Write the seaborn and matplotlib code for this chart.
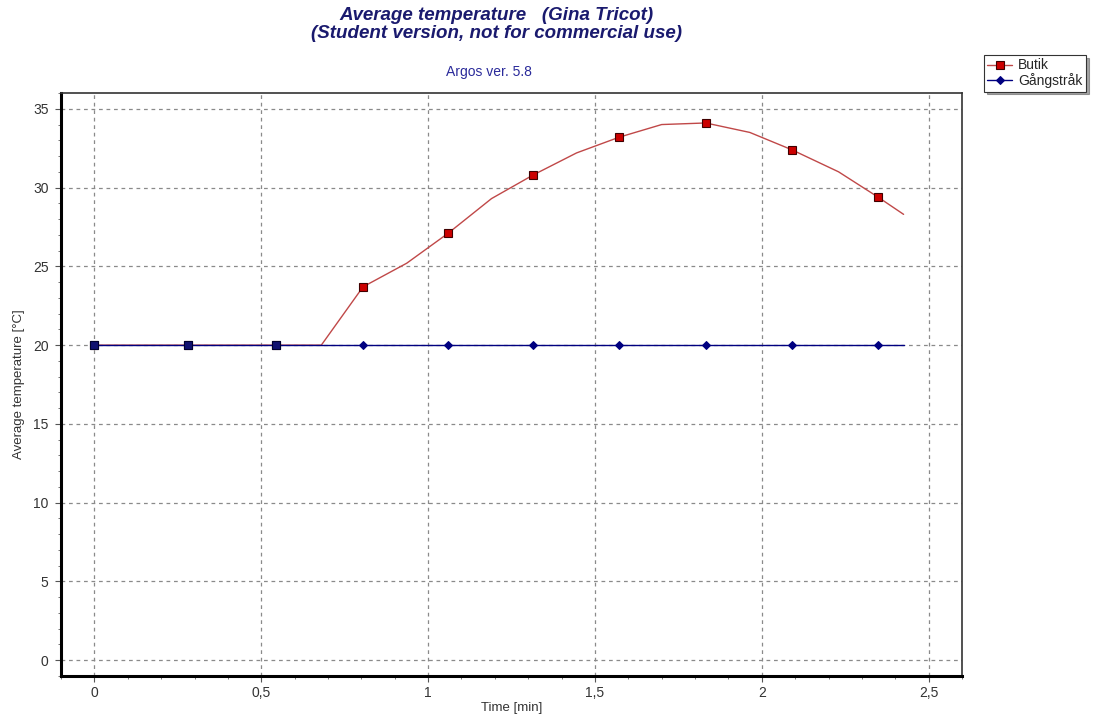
import matplotlib
matplotlib.use("Agg")
import matplotlib.pyplot as plt
import seaborn as sns
import pandas as pd
import numpy as np
from matplotlib.ticker import MultipleLocator, FuncFormatter

time_min = [0.0, 0.14, 0.281, 0.41, 0.545, 0.68, 0.805, 0.936, 1.06, 1.19,
            1.315, 1.445, 1.573, 1.70, 1.832, 1.964, 2.09, 2.23, 2.348, 2.425]
butik = [20.0, 20.0, 20.0, 20.0, 20.0, 20.0, 23.7, 25.2, 27.1, 29.3,
         30.8, 32.2, 33.2, 34.0, 34.1, 33.5, 32.4, 31.0, 29.4, 28.3]
gangstrak = [20.0] * 20
series_names = ["Butik", "Gångstråk"]
x_ticks = [0, 0.5, 1, 1.5, 2, 2.5]
y_ticks = [0, 5, 10, 15, 20, 25, 30, 35]

sns.set_theme(style="white")
plt.rcParams['font.family'] = ['Liberation Sans', 'DejaVu Sans']

df = pd.DataFrame({"time": time_min, "Butik": butik, "Gångstråk": gangstrak})

fig = plt.figure(figsize=(11.06, 7.24), dpi=100)
ax = fig.add_axes([0.0552, 0.0663, 0.8146, 0.8052])

red_line = "#c04848"
navy = "#000080"

sns.lineplot(data=df, x="time", y="Butik", ax=ax, color=red_line, linewidth=1.0,
             marker="s", markersize=5.4, markerfacecolor="#cc0000",
             markeredgecolor="#400000", markeredgewidth=0.8, markevery=2,
             label=series_names[0])
sns.lineplot(data=df, x="time", y="Gångstråk", ax=ax, color=navy, linewidth=1.0,
             marker="D", markersize=4.2, markerfacecolor=navy,
             markeredgecolor=navy, markevery=2, label=series_names[1])

# where both series coincide, the square marker shows in navy
same = df[np.isclose(df["Butik"], df["Gångstråk"])].iloc[::2]
ax.plot(same["time"], same["Butik"], linestyle="none", marker="s", markersize=5.4,
        markerfacecolor="#101070", markeredgecolor="#000030", markeredgewidth=0.8,
        zorder=5)

ax.set_xlim(-0.1, 2.6)
ax.set_ylim(-1.0, 36.0)
ax.set_xticks(x_ticks)
ax.set_yticks(y_ticks)
ax.xaxis.set_minor_locator(MultipleLocator(0.1))
ax.yaxis.set_minor_locator(MultipleLocator(1))
ax.xaxis.set_major_formatter(FuncFormatter(lambda v, p: f"{v:g}".replace(".", ",")))

ax.grid(True, which="major", linestyle=(0, (3, 3)), color="#8a8a8a", linewidth=0.9)
ax.set_axisbelow(True)

for side in ["left", "bottom"]:
    ax.spines[side].set_linewidth(2.2)
    ax.spines[side].set_color("black")
for side in ["top", "right"]:
    ax.spines[side].set_linewidth(1.2)
    ax.spines[side].set_color("#333333")

ax.tick_params(axis="both", which="major", direction="out", length=4, width=0.8,
               color="#555555", labelsize=10, labelcolor="#333333",
               bottom=True, left=True)
ax.tick_params(axis="x", which="major", pad=3)
ax.tick_params(axis="y", which="major", pad=5)
ax.tick_params(axis="both", which="minor", direction="out", length=2.5, width=0.7,
               color="#777777", bottom=True, left=True)

ax.set_xlabel("Time [min]", fontsize=9.5, color="#333333", labelpad=2)
ax.set_ylabel("Average temperature [°C]", fontsize=9.5, color="#333333", labelpad=6)

fig.text(0.449, 0.979, "Average temperature   (Gina Tricot)", ha="center", va="center",
         fontsize=13.5, fontweight="bold", fontstyle="italic", color="#1a1a6e")
fig.text(0.449, 0.954, "(Student version, not for commercial use)", ha="center",
         va="center", fontsize=13.5, fontweight="bold", fontstyle="italic", color="#1a1a6e")
fig.text(0.442, 0.900, "Argos ver. 5.8", ha="center", va="center", fontsize=10,
         color="#2a2a9a")

leg = ax.legend(loc="upper left", bbox_to_anchor=(984 / 1106, 1 - 55 / 724),
                bbox_transform=fig.transFigure, frameon=True,
                fancybox=False, shadow=True, fontsize=10, borderpad=0.25,
                labelspacing=0.05, handlelength=1.8, handletextpad=0.4,
                borderaxespad=0)
leg.get_frame().set_edgecolor("#333333")
leg.get_frame().set_linewidth(0.8)

fig.savefig("out.png", dpi=100)
